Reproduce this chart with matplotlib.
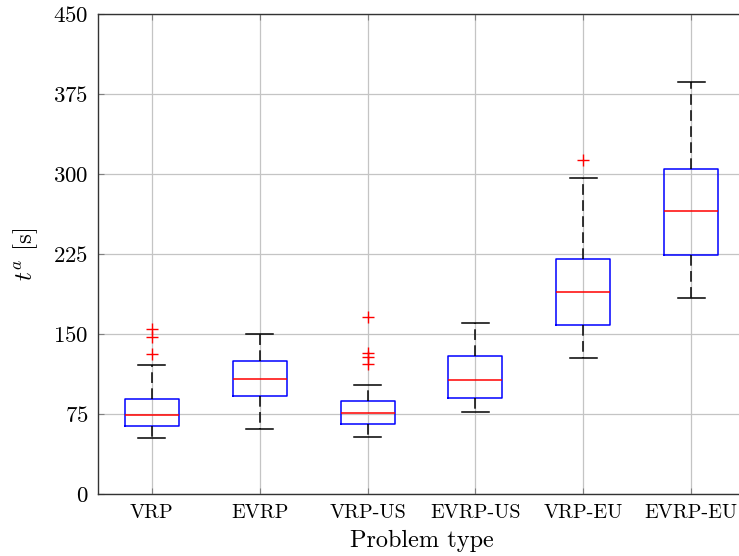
import matplotlib
matplotlib.use("Agg")
import matplotlib.pyplot as plt

plt.rcParams['font.family'] = 'serif'
plt.rcParams['font.serif'] = ['cmr10', 'DejaVu Serif']
plt.rcParams['mathtext.fontset'] = 'cm'
plt.rcParams['axes.formatter.use_mathtext'] = True

# valores
categorias = ['VRP', 'EVRP', 'VRP-US', 'EVRP-US', 'VRP-EU', 'EVRP-EU']
medianas = [73.8, 108.1, 75.9, 107.2, 189.1, 265.6]
q1 = [63.8, 91.6, 65.3, 90.0, 158.1, 223.8]
q3 = [88.8, 124.7, 87.5, 129.7, 220.0, 304.7]
bigode_inf = [52.5, 60.9, 53.7, 76.6, 127.8, 183.8]
bigode_sup = [121.0, 150.0, 102.5, 160.0, 296.0, 386.5]
outliers = [
    [154.4, 146.9, 131.3],
    [],
    [166.2, 131.9, 128.1, 121.9],
    [],
    [313.1],
    [],
]

stats = []
for i, nome in enumerate(categorias):
    stats.append({
        'label': nome,
        'med': medianas[i],
        'q1': q1[i],
        'q3': q3[i],
        'whislo': bigode_inf[i],
        'whishi': bigode_sup[i],
        'fliers': outliers[i],
    })

fig = plt.figure(figsize=(7.39, 5.56), dpi=100)
ax = fig.add_axes([98 / 739, 62 / 556, 647 / 739, 480 / 556])

ax.bxp(stats, widths=0.5, showfliers=True,
       boxprops=dict(color='blue', linewidth=1.1),
       medianprops=dict(color='red', linewidth=1.1),
       whiskerprops=dict(color='black', linestyle=(0, (7, 3.5)), linewidth=1.1),
       capprops=dict(color='black', linewidth=1.1),
       flierprops=dict(marker='+', markeredgecolor='red', markersize=8, linestyle='none'))

ax.set_xlim(0.5, 6.5)
ax.set_ylim(0, 450)
ax.set_yticks([0, 75, 150, 225, 300, 375, 450])
ax.grid(True, color='#c4c4c4', linewidth=0.9)
ax.set_axisbelow(True)
ax.tick_params(direction='in', length=4, color='#808080', top=True, right=True)
ax.tick_params(axis='y', labelsize=16.5, pad=7)
ax.tick_params(axis='x', labelsize=14.5, pad=7)
for s in ax.spines.values():
    s.set_color('#333333')
    s.set_linewidth(1.0)

ax.set_xlabel('Problem type', fontsize=17.5, labelpad=6)
ax.set_ylabel(r'$t^a$ [s]', fontsize=18, labelpad=9)

fig.savefig('out.png', dpi=100)
